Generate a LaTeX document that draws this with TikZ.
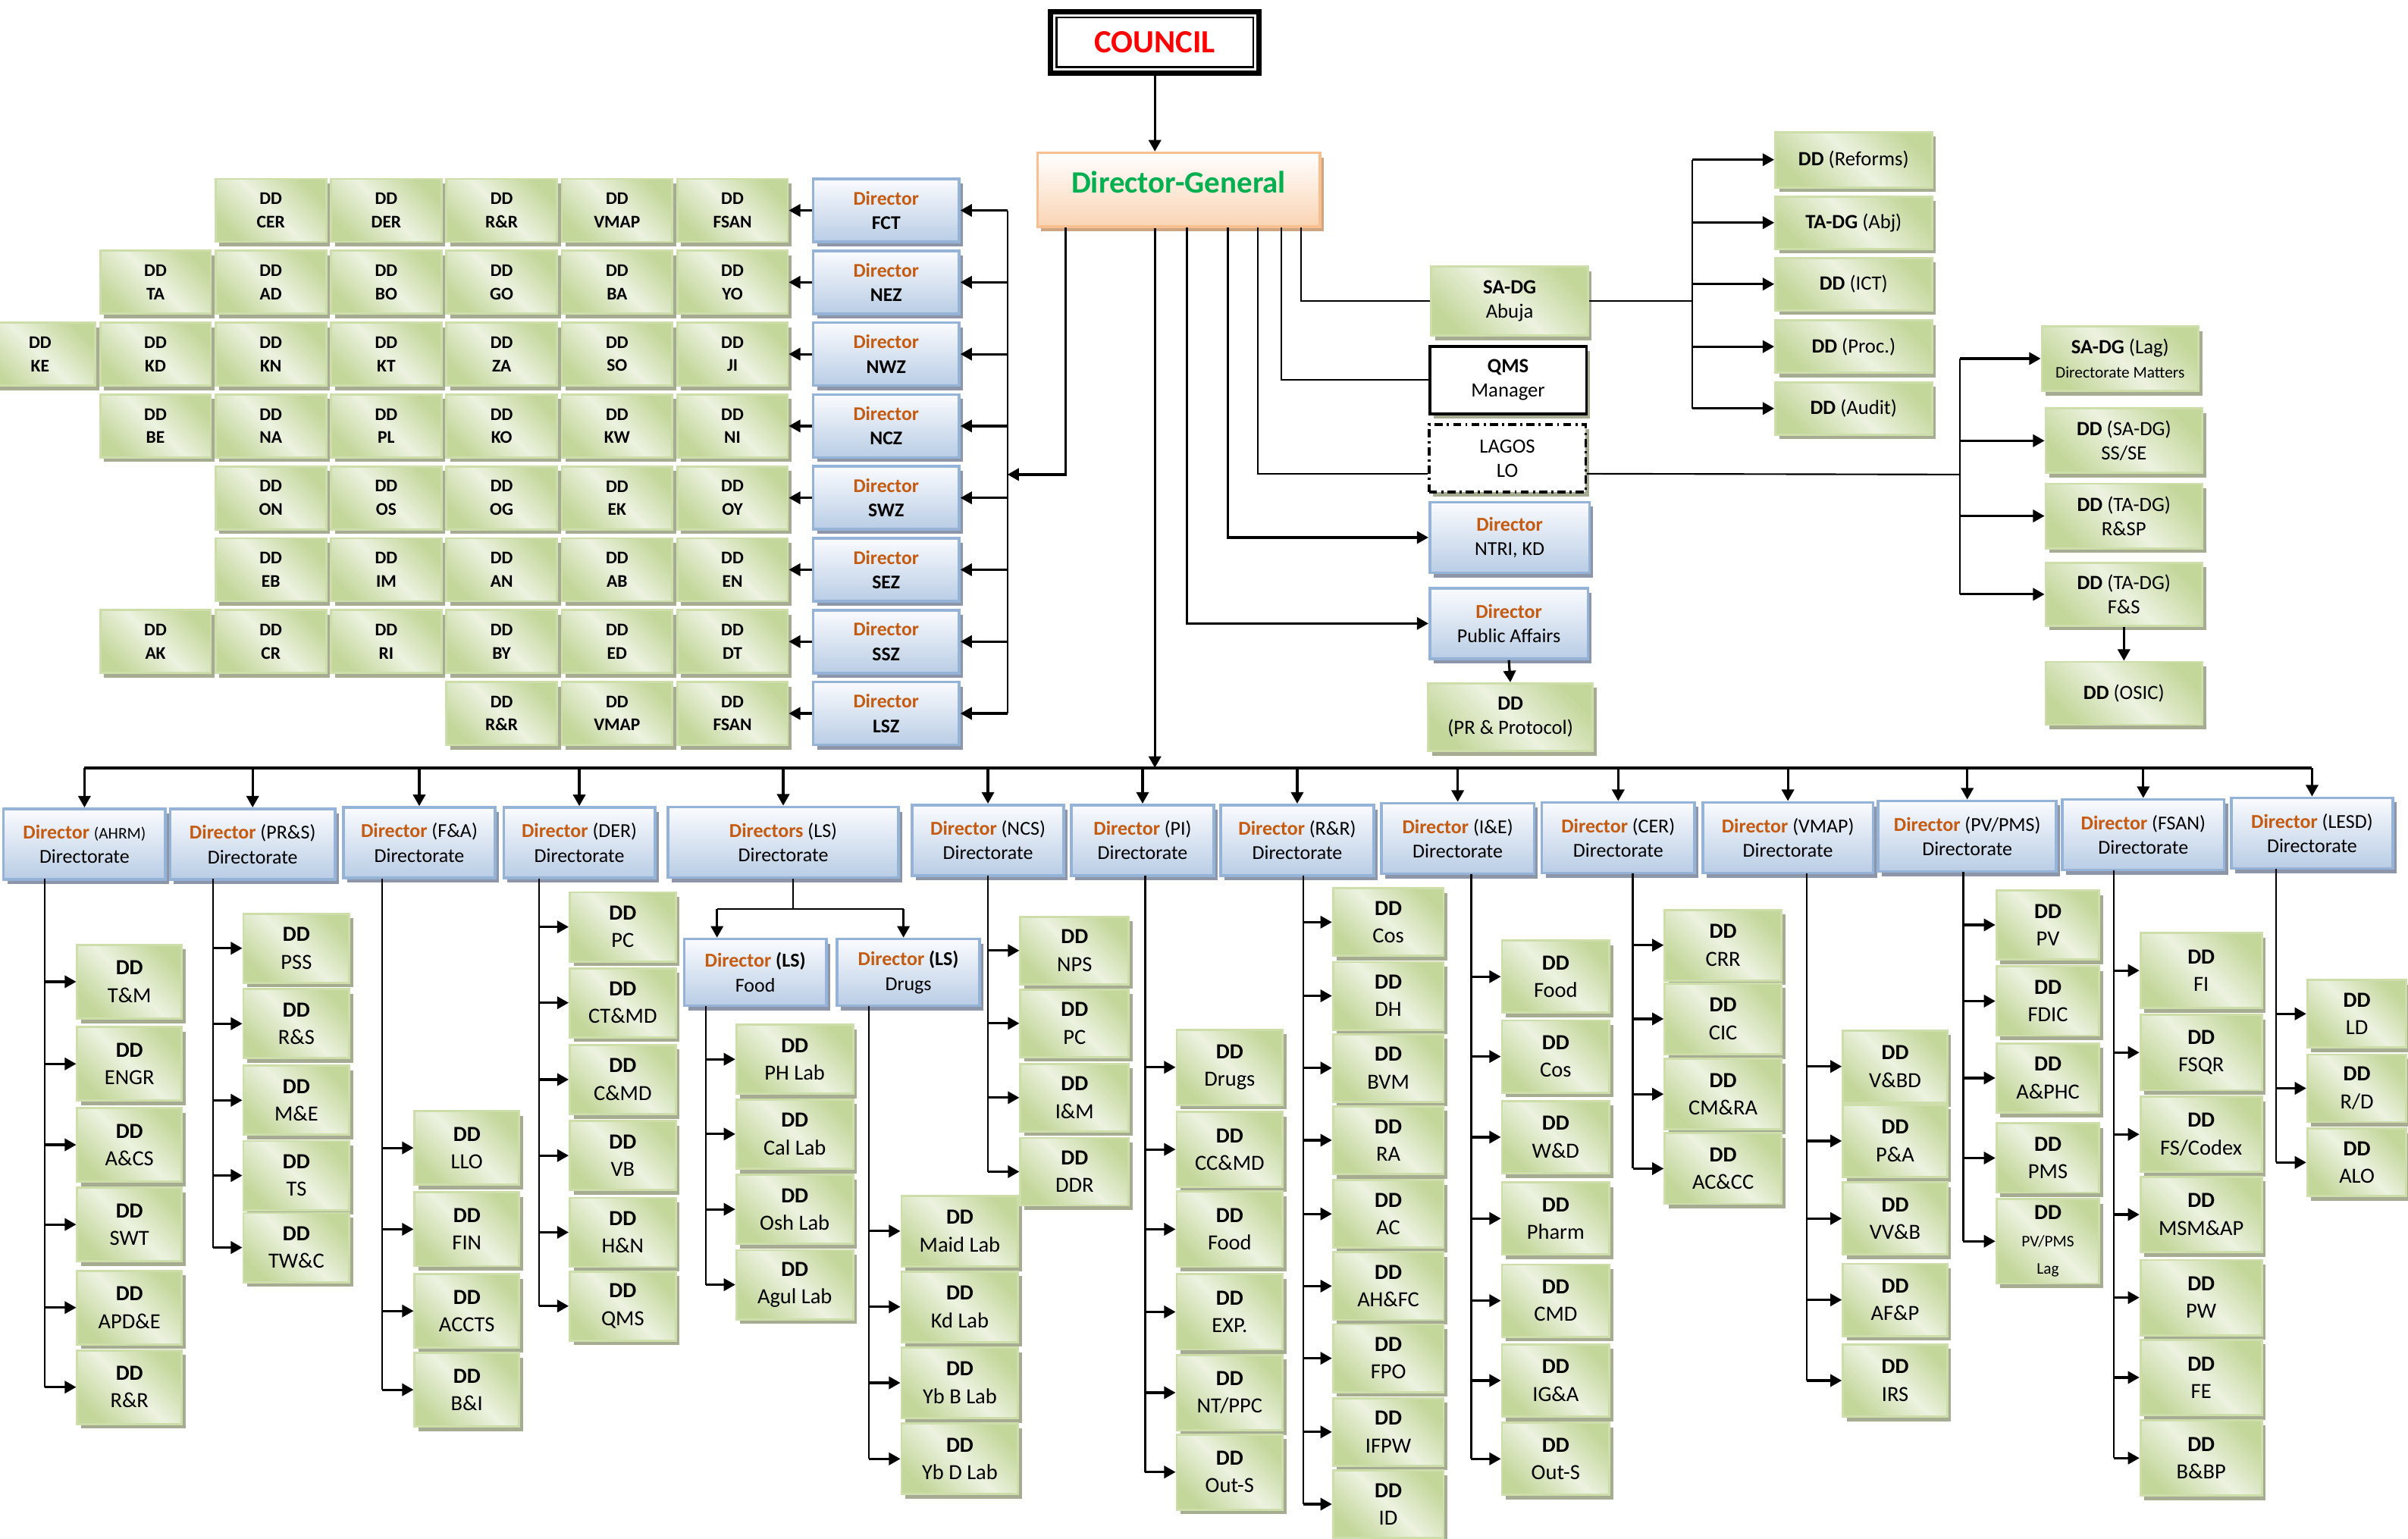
\documentclass[tikz,border=0pt]{standalone}
\usepackage{fontspec}
\setmainfont{Carlito}
\usetikzlibrary{arrows.meta, positioning, shadows}
\definecolor{cred}{RGB}{255,0,0}
\definecolor{dggreen}{RGB}{0,176,80}
\definecolor{dirorg}{RGB}{197,90,17}
\definecolor{bluT}{RGB}{250,251,254}
\definecolor{bluB}{RGB}{185,205,229}
\definecolor{bluBd}{RGB}{149,179,215}
\definecolor{bluSh}{RGB}{140,150,168}
\definecolor{grnL}{RGB}{236,242,224}
\definecolor{grnD}{RGB}{196,215,155}
\definecolor{grnBd}{RGB}{205,222,170}
\definecolor{grnSh}{RGB}{165,172,145}
\definecolor{pchB}{RGB}{250,212,180}
\definecolor{pchBd}{RGB}{249,191,143}
\definecolor{pchSh}{RGB}{205,165,130}
\pgfdeclarehorizontalshading{ddshade}{100bp}{color(0bp)=(grnD); color(25bp)=(grnD); color(50bp)=(grnL); color(75bp)=(grnD); color(100bp)=(grnD)}
\tikzstyle{councilbox} = [rectangle, draw=black, line width=2pt, fill=white, minimum width=2.72cm, minimum height=0.8cm, text=cred, font=\fontsize{12}{14}\selectfont\bfseries]
\tikzstyle{dgbox} = [rectangle, draw=pchBd, line width=1pt, top color=white, bottom color=pchB, minimum width=3.68cm, minimum height=0.96cm, text depth=5.5pt, text=dggreen, font=\fontsize{11.5}{14}\selectfont\bfseries, drop shadow={shadow xshift=0.05cm, shadow yshift=-0.06cm, fill=pchSh, opacity=1}]
\tikzstyle{dirbox} = [rectangle, draw=bluBd, line width=1pt, top color=bluT, bottom color=bluB, align=center, inner sep=1pt, minimum height=0.92cm, font=\fontsize{7.3}{9.1}\selectfont, drop shadow={shadow xshift=0.05cm, shadow yshift=-0.06cm, fill=bluSh, opacity=1}]
\tikzstyle{zonebox} = [dirbox, minimum width=1.9cm, minimum height=0.82cm, font=\fontsize{7.2}{9.1}\selectfont\bfseries]
\tikzstyle{ddbox} = [rectangle, draw=grnBd, line width=0.8pt, shading=ddshade, shading angle=45, align=center, inner sep=1pt, minimum width=1.38cm, minimum height=0.92cm, font=\fontsize{8}{10.2}\selectfont, drop shadow={shadow xshift=0.05cm, shadow yshift=-0.06cm, fill=grnSh, opacity=1}]
\tikzstyle{zonedd} = [ddbox, minimum width=1.44cm, minimum height=0.82cm, font=\fontsize{6.6}{8.6}\selectfont\bfseries]
\tikzstyle{staffbox} = [ddbox, minimum width=2.04cm, minimum height=0.9cm, font=\fontsize{7.5}{9.1}\selectfont]
\tikzstyle{plainbox} = [rectangle, draw=black, line width=1pt, fill=white, align=center, minimum width=2.04cm, minimum height=0.88cm, font=\fontsize{7.5}{9.1}\selectfont, drop shadow={shadow xshift=0.05cm, shadow yshift=-0.06cm, fill=grnSh, opacity=1}]
\tikzstyle{lagosbox} = [plainbox, dash pattern=on 3pt off 1.5pt on 0.8pt off 1.5pt]
\tikzstyle{ln} = [line width=0.6pt]
\tikzstyle{arr} = [line width=0.9pt, -{Triangle[length=1.5mm, width=1.6mm]}]
\tikzstyle{bus} = [line width=1.1pt]
\newcommand{\dirlbl}{\textcolor{dirorg}{\textbf{Director}}}

\begin{document}
\begin{tikzpicture}[x=0.02cm, y=-0.02cm]
\useasboundingbox (0,0) rectangle (1568,1002);

% Top
\node (council) [councilbox] at (752,27.5) {COUNCIL};
\draw [line width=0.75pt] ([shift={(3.2pt,-3.2pt)}]council.north west) rectangle ([shift={(-3.2pt,3.2pt)}]council.south east);
\node (dg) [dgbox] at (767.5,123.5) {Director-General};

% Zone directors
\node (fct) [zonebox] at (577,137) {\textcolor{dirorg}{Director}\\FCT};
\node (nez) [zonebox] at (577,183.8) {\textcolor{dirorg}{Director}\\NEZ};
\node (nwz) [zonebox] at (577,230.6) {\textcolor{dirorg}{Director}\\NWZ};
\node (ncz) [zonebox] at (577,277.4) {\textcolor{dirorg}{Director}\\NCZ};
\node (swz) [zonebox] at (577,324.2) {\textcolor{dirorg}{Director}\\SWZ};
\node (sez) [zonebox] at (577,371) {\textcolor{dirorg}{Director}\\SEZ};
\node (ssz) [zonebox] at (577,417.8) {\textcolor{dirorg}{Director}\\SSZ};
\node (lsz) [zonebox] at (577,464.6) {\textcolor{dirorg}{Director}\\LSZ};

% Zone row FCT
\node (fct1) [zonedd, left=0.3cm of fct] {DD\\FSAN};
\node (fct2) [zonedd, left=0.035cm of fct1] {DD\\VMAP};
\node (fct3) [zonedd, left=0.035cm of fct2] {DD\\R\&R};
\node (fct4) [zonedd, left=0.035cm of fct3] {DD\\DER};
\node (fct5) [zonedd, left=0.035cm of fct4] {DD\\CER};
% Zone row NEZ
\node (nez1) [zonedd, left=0.3cm of nez] {DD\\YO};
\node (nez2) [zonedd, left=0.035cm of nez1] {DD\\BA};
\node (nez3) [zonedd, left=0.035cm of nez2] {DD\\GO};
\node (nez4) [zonedd, left=0.035cm of nez3] {DD\\BO};
\node (nez5) [zonedd, left=0.035cm of nez4] {DD\\AD};
\node (nez6) [zonedd, left=0.035cm of nez5] {DD\\TA};
% Zone row NWZ
\node (nwz1) [zonedd, left=0.3cm of nwz] {DD\\JI};
\node (nwz2) [zonedd, left=0.035cm of nwz1] {DD\\SO};
\node (nwz3) [zonedd, left=0.035cm of nwz2] {DD\\ZA};
\node (nwz4) [zonedd, left=0.035cm of nwz3] {DD\\KT};
\node (nwz5) [zonedd, left=0.035cm of nwz4] {DD\\KN};
\node (nwz6) [zonedd, left=0.035cm of nwz5] {DD\\KD};
\node (nwz7) [zonedd, left=0.035cm of nwz6] {DD\\KE};
% Zone row NCZ
\node (ncz1) [zonedd, left=0.3cm of ncz] {DD\\NI};
\node (ncz2) [zonedd, left=0.035cm of ncz1] {DD\\KW};
\node (ncz3) [zonedd, left=0.035cm of ncz2] {DD\\KO};
\node (ncz4) [zonedd, left=0.035cm of ncz3] {DD\\PL};
\node (ncz5) [zonedd, left=0.035cm of ncz4] {DD\\NA};
\node (ncz6) [zonedd, left=0.035cm of ncz5] {DD\\BE};
% Zone row SWZ
\node (swz1) [zonedd, left=0.3cm of swz] {DD\\OY};
\node (swz2) [zonedd, left=0.035cm of swz1] {DD\\EK};
\node (swz3) [zonedd, left=0.035cm of swz2] {DD\\OG};
\node (swz4) [zonedd, left=0.035cm of swz3] {DD\\OS};
\node (swz5) [zonedd, left=0.035cm of swz4] {DD\\ON};
% Zone row SEZ
\node (sez1) [zonedd, left=0.3cm of sez] {DD\\EN};
\node (sez2) [zonedd, left=0.035cm of sez1] {DD\\AB};
\node (sez3) [zonedd, left=0.035cm of sez2] {DD\\AN};
\node (sez4) [zonedd, left=0.035cm of sez3] {DD\\IM};
\node (sez5) [zonedd, left=0.035cm of sez4] {DD\\EB};
% Zone row SSZ
\node (ssz1) [zonedd, left=0.3cm of ssz] {DD\\DT};
\node (ssz2) [zonedd, left=0.035cm of ssz1] {DD\\ED};
\node (ssz3) [zonedd, left=0.035cm of ssz2] {DD\\BY};
\node (ssz4) [zonedd, left=0.035cm of ssz3] {DD\\RI};
\node (ssz5) [zonedd, left=0.035cm of ssz4] {DD\\CR};
\node (ssz6) [zonedd, left=0.035cm of ssz5] {DD\\AK};
% Zone row LSZ
\node (lsz1) [zonedd, left=0.3cm of lsz] {DD\\FSAN};
\node (lsz2) [zonedd, left=0.035cm of lsz1] {DD\\VMAP};
\node (lsz3) [zonedd, left=0.035cm of lsz2] {DD\\R\&R};

% Staff of the DG
\node (sadg) [staffbox] at (983,196) {\textbf{SA-DG}\\Abuja};
\node (qms) [plainbox] at (982,247.5) {\textbf{QMS}\\Manager};
\node (lagos) [lagosbox] at (981.5,298.5) {LAGOS\\LO};
\node (ntri) [dirbox, minimum width=2.08cm] at (983,350) {\dirlbl\\NTRI, KD};
\node (pa) [dirbox, minimum width=2.06cm] at (982.5,406) {\dirlbl\\Public Affairs};
\node (prp) [staffbox, minimum width=2.14cm, minimum height=0.88cm] at (983.5,467) {\textbf{DD}\\(PR \& Protocol)};
\node (reforms) [staffbox, minimum height=0.72cm] at (1207,104) {\textbf{DD} (Reforms)};
\node (tadg) [staffbox, minimum height=0.68cm] at (1207,145) {\textbf{TA-DG} (Abj)};
\node (ict) [staffbox, minimum height=0.68cm] at (1207,185) {\textbf{DD} (ICT)};
\node (proc) [staffbox, minimum height=0.68cm] at (1207,225.7) {\textbf{DD} (Proc.)};
\node (audit) [staffbox, minimum height=0.68cm] at (1207,266) {\textbf{DD} (Audit)};
\node (sadgl) [staffbox, minimum height=0.84cm] at (1380.5,233.5) {\textbf{SA-DG} (Lag)\\{\fontsize{6}{7.5}\selectfont Directorate Matters}};
\node (ssse) [staffbox, minimum height=0.84cm] at (1383,287) {\textbf{DD} (SA-DG)\\SS/SE};
\node (rsp) [staffbox, minimum height=0.84cm] at (1383,336) {\textbf{DD} (TA-DG)\\R\&SP};
\node (fs) [staffbox, minimum height=0.82cm] at (1383,387) {\textbf{DD} (TA-DG)\\F\&S};
\node (osic) [staffbox, minimum height=0.82cm] at (1383,451.5) {\textbf{DD} (OSIC)};

% Directorates
\node (ahrm) [dirbox, minimum width=2.11cm] at (55,549.7) {\dirlbl{} {\fontsize{6}{7}\selectfont(AHRM)}\\Directorate};
\node (prs) [dirbox, minimum width=2.15cm] at (164.5,549.7) {\dirlbl{} (PR\&S)\\Directorate};
\node (fa) [dirbox, minimum width=1.98cm] at (273,548.8) {\dirlbl{} (F\&A)\\Directorate};
\node (der) [dirbox, minimum width=1.97cm] at (377.2,548.8) {\dirlbl{} (DER)\\Directorate};
\node (ls) [dirbox, minimum width=3cm] at (510,548.5) {\textcolor{dirorg}{\textbf{Directors}} (LS)\\Directorate};
\node (ncs) [dirbox, minimum width=1.98cm] at (643.3,547.2) {\dirlbl{} (NCS)\\Directorate};
\node (piD) [dirbox, minimum width=1.86cm] at (744,547.2) {\dirlbl{} (PI)\\Directorate};
\node (rr) [dirbox, minimum width=1.99cm] at (844.7,547.2) {\dirlbl{} (R\&R)\\Directorate};
\node (ie) [dirbox, minimum width=1.99cm] at (949.2,546) {\dirlbl{} (I\&E)\\Directorate};
\node (cer) [dirbox, minimum width=1.99cm] at (1053.7,545.5) {\dirlbl{} (CER)\\Directorate};
\node (vmap) [dirbox, minimum width=2.22cm] at (1164.2,545.5) {\dirlbl{} (VMAP)\\Directorate};
\node (pvpms) [dirbox, minimum width=2.32cm] at (1281,544.5) {\dirlbl{} (PV/PMS)\\Directorate};
\node (fsan) [dirbox, minimum width=2.11cm] at (1395.6,543.5) {\dirlbl{} (FSAN)\\Directorate};
\node (lesd) [dirbox, minimum width=2.1cm] at (1505.5,542.5) {\dirlbl{} (LESD)\\Directorate};
\node (lsf) [dirbox, minimum width=1.85cm, minimum height=0.87cm] at (491.8,633.2) {\dirlbl{} \textbf{(LS)}\\Food};
\node (lsd) [dirbox, minimum width=1.86cm, minimum height=0.87cm] at (591.5,633.2) {\dirlbl{} \textbf{(LS)}\\Drugs};

% AHRM
\node (tm) [ddbox, minimum width=1.36cm, minimum height=0.96cm] at (84.3,639.3) {\textbf{DD}\\T\&M};
\node (engr) [ddbox, minimum width=1.36cm, minimum height=0.96cm] at (84.3,692.8) {\textbf{DD}\\ENGR};
\node (acs) [ddbox, minimum width=1.36cm, minimum height=0.96cm] at (84.3,745.5) {\textbf{DD}\\A\&CS};
\node (swt) [ddbox, minimum width=1.36cm, minimum height=0.96cm] at (84.3,797.4) {\textbf{DD}\\SWT};
\node (apde) [ddbox, minimum width=1.36cm, minimum height=0.96cm] at (84.3,851.5) {\textbf{DD}\\APD\&E};
\node (rrA) [ddbox, minimum width=1.36cm, minimum height=0.96cm] at (84.3,903.3) {\textbf{DD}\\R\&R};
% PR&S
\node (pss) [ddbox, minimum height=0.9cm] at (193,617.5) {\textbf{DD}\\PSS};
\node (rs) [ddbox, minimum height=0.9cm] at (193,666.6) {\textbf{DD}\\R\&S};
\node (me) [ddbox, minimum height=0.9cm] at (193,716.5) {\textbf{DD}\\M\&E};
\node (ts) [ddbox, minimum height=0.9cm] at (193,765.5) {\textbf{DD}\\TS};
\node (twc) [ddbox, minimum height=0.9cm] at (193,812.4) {\textbf{DD}\\TW\&C};
% F&A
\node (llo) [ddbox, minimum width=1.36cm, minimum height=0.96cm] at (304,747.5) {\textbf{DD}\\LLO};
\node (fin) [ddbox, minimum width=1.36cm, minimum height=0.96cm] at (304,800.5) {\textbf{DD}\\FIN};
\node (accts) [ddbox, minimum width=1.36cm, minimum height=0.96cm] at (304,853.7) {\textbf{DD}\\ACCTS};
\node (bi) [ddbox, minimum width=1.36cm, minimum height=0.96cm] at (304,905) {\textbf{DD}\\B\&I};
% DER
\node (pcD) [ddbox, minimum height=0.9cm] at (405.5,603.6) {\textbf{DD}\\PC};
\node (ctmd) [ddbox, minimum height=0.9cm] at (405.5,653) {\textbf{DD}\\CT\&MD};
\node (cmd) [ddbox, minimum height=0.9cm] at (405.5,703) {\textbf{DD}\\C\&MD};
\node (vb) [ddbox, minimum height=0.9cm] at (405.5,752.5) {\textbf{DD}\\VB};
\node (hn) [ddbox, minimum height=0.9cm] at (405.5,802.5) {\textbf{DD}\\H\&N};
\node (qmsD) [ddbox, minimum height=0.9cm] at (405.5,850.5) {\textbf{DD}\\QMS};
% LS Food
\node (phl) [ddbox, minimum width=1.52cm, minimum height=0.9cm] at (517.5,689.8) {\textbf{DD}\\PH Lab};
\node (call) [ddbox, minimum width=1.52cm, minimum height=0.9cm] at (517.5,738.5) {\textbf{DD}\\Cal Lab};
\node (oshl) [ddbox, minimum width=1.52cm, minimum height=0.9cm] at (517.5,787.5) {\textbf{DD}\\Osh Lab};
\node (agul) [ddbox, minimum width=1.52cm, minimum height=0.9cm] at (517.5,836.6) {\textbf{DD}\\Agul Lab};
% LS Drugs
\node (maid) [ddbox, minimum width=1.52cm] at (625,801.7) {\textbf{DD}\\Maid Lab};
\node (kdl) [ddbox, minimum width=1.52cm] at (625,851) {\textbf{DD}\\Kd Lab};
\node (ybb) [ddbox, minimum width=1.52cm] at (625,900.5) {\textbf{DD}\\Yb B Lab};
\node (ybd) [ddbox, minimum width=1.52cm] at (625,950) {\textbf{DD}\\Yb D Lab};
% NCS
\node (nps) [ddbox, minimum width=1.41cm, minimum height=0.88cm] at (699.7,619) {\textbf{DD}\\NPS};
\node (pcN) [ddbox, minimum width=1.41cm, minimum height=0.88cm] at (699.7,666.4) {\textbf{DD}\\PC};
\node (im) [ddbox, minimum width=1.41cm, minimum height=0.88cm] at (699.7,714.8) {\textbf{DD}\\I\&M};
\node (ddr) [ddbox, minimum width=1.41cm, minimum height=0.88cm] at (699.7,763) {\textbf{DD}\\DDR};
% PI
\node (drg) [ddbox, minimum height=0.98cm] at (800.7,695) {\textbf{DD}\\Drugs};
\node (ccmd) [ddbox, minimum height=0.98cm] at (800.7,748.5) {\textbf{DD}\\CC\&MD};
\node (foodP) [ddbox, minimum height=0.98cm] at (800.7,800.5) {\textbf{DD}\\Food};
\node (expD) [ddbox, minimum height=0.98cm] at (800.7,854.3) {\textbf{DD}\\EXP.};
\node (ntppc) [ddbox, minimum height=0.98cm] at (800.7,906.9) {\textbf{DD}\\NT/PPC};
\node (outP) [ddbox, minimum height=0.98cm] at (800.7,958.6) {\textbf{DD}\\Out-S};
% R&R
\node (cos) [ddbox, minimum width=1.44cm, minimum height=0.88cm] at (904,600.5) {\textbf{DD}\\Cos};
\node (dh) [ddbox, minimum width=1.44cm, minimum height=0.88cm] at (904,648.5) {\textbf{DD}\\DH};
\node (bvm) [ddbox, minimum width=1.44cm, minimum height=0.88cm] at (904,695.5) {\textbf{DD}\\BVM};
\node (ra) [ddbox, minimum width=1.44cm, minimum height=0.88cm] at (904,742.5) {\textbf{DD}\\RA};
\node (ac) [ddbox, minimum width=1.44cm, minimum height=0.88cm] at (904,790.5) {\textbf{DD}\\AC};
\node (ahfc) [ddbox, minimum width=1.44cm, minimum height=0.88cm] at (904,837.5) {\textbf{DD}\\AH\&FC};
\node (fpo) [ddbox, minimum width=1.44cm, minimum height=0.88cm] at (904,884.5) {\textbf{DD}\\FPO};
\node (ifpw) [ddbox, minimum width=1.44cm, minimum height=0.88cm] at (904,932.5) {\textbf{DD}\\IFPW};
\node (id) [ddbox, minimum width=1.44cm, minimum height=0.88cm] at (904,979.5) {\textbf{DD}\\ID};
% I&E
\node (foodI) [ddbox, minimum width=1.4cm, minimum height=0.94cm] at (1013,636) {\textbf{DD}\\Food};
\node (cosI) [ddbox, minimum width=1.4cm, minimum height=0.94cm] at (1013,688) {\textbf{DD}\\Cos};
\node (wd) [ddbox, minimum width=1.4cm, minimum height=0.94cm] at (1013,740.5) {\textbf{DD}\\W\&D};
\node (pharm) [ddbox, minimum width=1.4cm, minimum height=0.94cm] at (1013,793.5) {\textbf{DD}\\Pharm};
\node (cmdI) [ddbox, minimum width=1.4cm, minimum height=0.94cm] at (1013,847) {\textbf{DD}\\CMD};
\node (iga) [ddbox, minimum width=1.4cm, minimum height=0.94cm] at (1013,899) {\textbf{DD}\\IG\&A};
\node (outI) [ddbox, minimum width=1.4cm, minimum height=0.94cm] at (1013,950) {\textbf{DD}\\Out-S};
% CER
\node (crr) [ddbox, minimum width=1.52cm] at (1122,615.5) {\textbf{DD}\\CRR};
\node (cic) [ddbox, minimum width=1.52cm] at (1122,663.5) {\textbf{DD}\\CIC};
\node (cmra) [ddbox, minimum width=1.52cm] at (1122,712.5) {\textbf{DD}\\CM\&RA};
\node (accc) [ddbox, minimum width=1.52cm] at (1122,761) {\textbf{DD}\\AC\&CC};
% VMAP
\node (vbd) [ddbox, minimum width=1.36cm, minimum height=0.94cm] at (1234,694.5) {\textbf{DD}\\V\&BD};
\node (paV) [ddbox, minimum width=1.36cm, minimum height=0.94cm] at (1234,743) {\textbf{DD}\\P\&A};
\node (vvb) [ddbox, minimum width=1.36cm, minimum height=0.94cm] at (1234,793.5) {\textbf{DD}\\VV\&B};
\node (afp) [ddbox, minimum width=1.36cm, minimum height=0.94cm] at (1234,846.5) {\textbf{DD}\\AF\&P};
\node (irs) [ddbox, minimum width=1.36cm, minimum height=0.94cm] at (1234,899) {\textbf{DD}\\IRS};
% PV/PMS
\node (pv) [ddbox, minimum width=1.34cm, minimum height=0.9cm] at (1333.5,602.3) {\textbf{DD}\\PV};
\node (fdic) [ddbox, minimum width=1.34cm, minimum height=0.9cm] at (1333.5,651.9) {\textbf{DD}\\FDIC};
\node (aphc) [ddbox, minimum width=1.34cm, minimum height=0.9cm] at (1333.5,702) {\textbf{DD}\\A\&PHC};
\node (pms) [ddbox, minimum width=1.34cm, minimum height=0.9cm] at (1333.5,754.1) {\textbf{DD}\\PMS};
\node (pvl) [ddbox, minimum width=1.34cm, minimum height=1.1cm] at (1333.5,808.3) {\textbf{DD}\\{\fontsize{6}{7.5}\selectfont PV/PMS}\\{\fontsize{6}{7.5}\selectfont Lag}};
% FSAN
\node (fi) [ddbox, minimum width=1.58cm, minimum height=0.98cm] at (1433.3,632) {\textbf{DD}\\FI};
\node (fsqr) [ddbox, minimum width=1.58cm, minimum height=0.98cm] at (1433.3,685.4) {\textbf{DD}\\FSQR};
\node (fsc) [ddbox, minimum width=1.58cm, minimum height=0.98cm] at (1433.3,738.7) {\textbf{DD}\\FS/Codex};
\node (msm) [ddbox, minimum width=1.58cm, minimum height=0.98cm] at (1433.3,790.9) {\textbf{DD}\\MSM\&AP};
\node (pw) [ddbox, minimum width=1.58cm, minimum height=0.98cm] at (1433.3,845) {\textbf{DD}\\PW};
\node (fe) [ddbox, minimum width=1.58cm, minimum height=0.98cm] at (1433.3,897) {\textbf{DD}\\FE};
\node (bbp) [ddbox, minimum width=1.58cm, minimum height=0.98cm] at (1433.3,949.5) {\textbf{DD}\\B\&BP};
% LESD
\node (ld) [ddbox, minimum width=1.29cm, minimum height=0.88cm] at (1534.7,660.2) {\textbf{DD}\\LD};
\node (rd) [ddbox, minimum width=1.29cm, minimum height=0.88cm] at (1534.7,708.7) {\textbf{DD}\\R/D};
\node (alo) [ddbox, minimum width=1.29cm, minimum height=0.88cm] at (1534.7,757) {\textbf{DD}\\ALO};

% Junction points
\coordinate (oZ) at (694,148);
\coordinate (oPA) at (773,148);
\coordinate (oNT) at (799.5,148);
\coordinate (oLA) at (819,148);
\coordinate (oQM) at (834.5,148);
\coordinate (oSA) at (847,148);
\coordinate (zbus) at (656,309);
\coordinate (abus) at (1102,196);
\coordinate (lbus) at (1276,309);
\coordinate (trunk) at (752,500);
\coordinate (lsj) at (516.5,592);
\coordinate (lsjF) at (466.9,592);
\coordinate (lsjD) at (588.3,592);
\coordinate (cA) at (29.3,572);
\coordinate (cB) at (138.9,572);
\coordinate (cC) at (249,572);
\coordinate (cD) at (351,572);
\coordinate (cE) at (459.8,655);
\coordinate (cF) at (565.6,655);
\coordinate (cG) at (643.3,570);
\coordinate (cH) at (745.7,570);
\coordinate (cI) at (848.7,570);
\coordinate (cJ) at (958,569);
\coordinate (cK) at (1063.2,568.6);
\coordinate (cL) at (1176.4,568.6);
\coordinate (cM) at (1278.4,567.7);
\coordinate (cN) at (1376.4,566.6);
\coordinate (cO) at (1482,566);

% Arrows top
\draw [arr] (council.south) -- (council.south |- dg.north);
\draw [arr] (dg.south -| council.south) -- (trunk);
\draw [arr] (oZ) |- (zbus);
\draw [ln] (zbus |- fct.east) -- (zbus |- lsz.east);
\draw [arr] (zbus |- fct.east) -- (fct.east);
\draw [arr] (zbus |- nez.east) -- (nez.east);
\draw [arr] (zbus |- nwz.east) -- (nwz.east);
\draw [arr] (zbus |- ncz.east) -- (ncz.east);
\draw [arr] (zbus |- swz.east) -- (swz.east);
\draw [arr] (zbus |- sez.east) -- (sez.east);
\draw [arr] (zbus |- ssz.east) -- (ssz.east);
\draw [arr] (zbus |- lsz.east) -- (lsz.east);
\draw [arr] (fct.west) -- (fct1.east);
\draw [arr] (nez.west) -- (nez1.east);
\draw [arr] (nwz.west) -- (nwz1.east);
\draw [arr] (ncz.west) -- (ncz1.east);
\draw [arr] (swz.west) -- (swz1.east);
\draw [arr] (sez.west) -- (sez1.east);
\draw [arr] (ssz.west) -- (ssz1.east);
\draw [arr] (lsz.west) -- (lsz1.east);

% Arrows staff
\draw [ln] (oSA) |- (sadg.west);
\draw [ln] (oQM) |- (qms.west);
\draw [ln] (oLA) |- ([yshift=-0.2cm]lagos.west);
\draw [arr] (oNT) |- (ntri.west);
\draw [arr] (oPA) |- (pa.west);
\draw [arr] (pa.south) -- (prp.north);
\draw [ln] (sadg.east) -- (abus);
\draw [ln] (abus |- reforms.west) -- (abus |- audit.west);
\draw [arr] (abus |- reforms.west) -- (reforms.west);
\draw [arr] (abus |- tadg.west) -- (tadg.west);
\draw [arr] (abus |- ict.west) -- (ict.west);
\draw [arr] (abus |- proc.west) -- (proc.west);
\draw [arr] (abus |- audit.west) -- (audit.west);
\draw [ln] ([yshift=-0.2cm]lagos.east) -- (lbus);
\draw [ln] (lbus |- sadgl.west) -- (lbus |- fs.west);
\draw [arr] (lbus |- sadgl.west) -- (sadgl.west);
\draw [arr] (lbus |- ssse.west) -- (ssse.west);
\draw [arr] (lbus |- rsp.west) -- (rsp.west);
\draw [arr] (lbus |- fs.west) -- (fs.west);
\draw [arr] (fs.south) -- (osic.north);

% Arrows directorates
\draw [bus] (ahrm.north |- trunk) -- (lesd.north |- trunk);
\draw [arr] (ahrm.north |- trunk) -- (ahrm.north);
\draw [arr] (prs.north |- trunk) -- (prs.north);
\draw [arr] (fa.north |- trunk) -- (fa.north);
\draw [arr] (der.north |- trunk) -- (der.north);
\draw [arr] (ls.north |- trunk) -- (ls.north);
\draw [arr] (ncs.north |- trunk) -- (ncs.north);
\draw [arr] (piD.north |- trunk) -- (piD.north);
\draw [arr] (rr.north |- trunk) -- (rr.north);
\draw [arr] (ie.north |- trunk) -- (ie.north);
\draw [arr] (cer.north |- trunk) -- (cer.north);
\draw [arr] (vmap.north |- trunk) -- (vmap.north);
\draw [arr] (pvpms.north |- trunk) -- (pvpms.north);
\draw [arr] (fsan.north |- trunk) -- (fsan.north);
\draw [arr] (lesd.north |- trunk) -- (lesd.north);
\draw [ln] (ls.south -| lsj) -- (lsj);
\draw [ln] (lsjF) -- (lsjD);
\draw [arr] (lsjF) -- (lsjF |- lsf.north);
\draw [arr] (lsjD) -- (lsjD |- lsd.north);

% Arrows deputy directors
\draw [ln] (cA) -- (cA |- rrA.west);
\draw [arr] (cA |- tm.west) -- (tm.west);
\draw [arr] (cA |- engr.west) -- (engr.west);
\draw [arr] (cA |- acs.west) -- (acs.west);
\draw [arr] (cA |- swt.west) -- (swt.west);
\draw [arr] (cA |- apde.west) -- (apde.west);
\draw [arr] (cA |- rrA.west) -- (rrA.west);
\draw [ln] (cB) -- (cB |- twc.west);
\draw [arr] (cB |- pss.west) -- (pss.west);
\draw [arr] (cB |- rs.west) -- (rs.west);
\draw [arr] (cB |- me.west) -- (me.west);
\draw [arr] (cB |- ts.west) -- (ts.west);
\draw [arr] (cB |- twc.west) -- (twc.west);
\draw [ln] (cC) -- (cC |- bi.west);
\draw [arr] (cC |- llo.west) -- (llo.west);
\draw [arr] (cC |- fin.west) -- (fin.west);
\draw [arr] (cC |- accts.west) -- (accts.west);
\draw [arr] (cC |- bi.west) -- (bi.west);
\draw [ln] (cD) -- (cD |- qmsD.west);
\draw [arr] (cD |- pcD.west) -- (pcD.west);
\draw [arr] (cD |- ctmd.west) -- (ctmd.west);
\draw [arr] (cD |- cmd.west) -- (cmd.west);
\draw [arr] (cD |- vb.west) -- (vb.west);
\draw [arr] (cD |- hn.west) -- (hn.west);
\draw [arr] (cD |- qmsD.west) -- (qmsD.west);
\draw [ln] (cE) -- (cE |- agul.west);
\draw [arr] (cE |- phl.west) -- (phl.west);
\draw [arr] (cE |- call.west) -- (call.west);
\draw [arr] (cE |- oshl.west) -- (oshl.west);
\draw [arr] (cE |- agul.west) -- (agul.west);
\draw [ln] (cF) -- (cF |- ybd.west);
\draw [arr] (cF |- maid.west) -- (maid.west);
\draw [arr] (cF |- kdl.west) -- (kdl.west);
\draw [arr] (cF |- ybb.west) -- (ybb.west);
\draw [arr] (cF |- ybd.west) -- (ybd.west);
\draw [ln] (cG) -- (cG |- ddr.west);
\draw [arr] (cG |- nps.west) -- (nps.west);
\draw [arr] (cG |- pcN.west) -- (pcN.west);
\draw [arr] (cG |- im.west) -- (im.west);
\draw [arr] (cG |- ddr.west) -- (ddr.west);
\draw [ln] (cH) -- (cH |- outP.west);
\draw [arr] (cH |- drg.west) -- (drg.west);
\draw [arr] (cH |- ccmd.west) -- (ccmd.west);
\draw [arr] (cH |- foodP.west) -- (foodP.west);
\draw [arr] (cH |- expD.west) -- (expD.west);
\draw [arr] (cH |- ntppc.west) -- (ntppc.west);
\draw [arr] (cH |- outP.west) -- (outP.west);
\draw [ln] (cI) -- (cI |- id.west);
\draw [arr] (cI |- cos.west) -- (cos.west);
\draw [arr] (cI |- dh.west) -- (dh.west);
\draw [arr] (cI |- bvm.west) -- (bvm.west);
\draw [arr] (cI |- ra.west) -- (ra.west);
\draw [arr] (cI |- ac.west) -- (ac.west);
\draw [arr] (cI |- ahfc.west) -- (ahfc.west);
\draw [arr] (cI |- fpo.west) -- (fpo.west);
\draw [arr] (cI |- ifpw.west) -- (ifpw.west);
\draw [arr] (cI |- id.west) -- (id.west);
\draw [ln] (cJ) -- (cJ |- outI.west);
\draw [arr] (cJ |- foodI.west) -- (foodI.west);
\draw [arr] (cJ |- cosI.west) -- (cosI.west);
\draw [arr] (cJ |- wd.west) -- (wd.west);
\draw [arr] (cJ |- pharm.west) -- (pharm.west);
\draw [arr] (cJ |- cmdI.west) -- (cmdI.west);
\draw [arr] (cJ |- iga.west) -- (iga.west);
\draw [arr] (cJ |- outI.west) -- (outI.west);
\draw [ln] (cK) -- (cK |- accc.west);
\draw [arr] (cK |- crr.west) -- (crr.west);
\draw [arr] (cK |- cic.west) -- (cic.west);
\draw [arr] (cK |- cmra.west) -- (cmra.west);
\draw [arr] (cK |- accc.west) -- (accc.west);
\draw [ln] (cL) -- (cL |- irs.west);
\draw [arr] (cL |- vbd.west) -- (vbd.west);
\draw [arr] (cL |- paV.west) -- (paV.west);
\draw [arr] (cL |- vvb.west) -- (vvb.west);
\draw [arr] (cL |- afp.west) -- (afp.west);
\draw [arr] (cL |- irs.west) -- (irs.west);
\draw [ln] (cM) -- (cM |- pvl.west);
\draw [arr] (cM |- pv.west) -- (pv.west);
\draw [arr] (cM |- fdic.west) -- (fdic.west);
\draw [arr] (cM |- aphc.west) -- (aphc.west);
\draw [arr] (cM |- pms.west) -- (pms.west);
\draw [arr] (cM |- pvl.west) -- (pvl.west);
\draw [ln] (cN) -- (cN |- bbp.west);
\draw [arr] (cN |- fi.west) -- (fi.west);
\draw [arr] (cN |- fsqr.west) -- (fsqr.west);
\draw [arr] (cN |- fsc.west) -- (fsc.west);
\draw [arr] (cN |- msm.west) -- (msm.west);
\draw [arr] (cN |- pw.west) -- (pw.west);
\draw [arr] (cN |- fe.west) -- (fe.west);
\draw [arr] (cN |- bbp.west) -- (bbp.west);
\draw [ln] (cO) -- (cO |- alo.west);
\draw [arr] (cO |- ld.west) -- (ld.west);
\draw [arr] (cO |- rd.west) -- (rd.west);
\draw [arr] (cO |- alo.west) -- (alo.west);
\end{tikzpicture}
\end{document}
